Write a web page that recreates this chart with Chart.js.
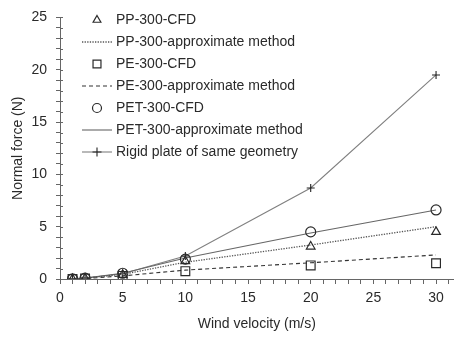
<!DOCTYPE html>
<html>
<head>
<meta charset="utf-8">
<script src="https://cdn.jsdelivr.net/npm/chart.js@4/dist/chart.umd.min.js"></script>
<style>
  html, body { margin: 0; padding: 0; background: #fff; }
  #wrap { width: 461px; height: 337px; }
</style>
</head>
<body>
<div id="wrap"><canvas id="myChart"></canvas></div>
<script>
// Wind velocities (m/s)
const velocity = [1, 2, 5, 10, 20, 30];

// Normal force (N)
const ppCfd = [0, 0.06, 0.4, 1.7, 3.1, 4.5];
const ppApprox = [0.01, 0.07, 0.45, 1.6, 3.25, 5.0];
const peCfd = [0, 0.05, 0.3, 0.75, 1.3, 1.5];
const peApprox = [0, 0.04, 0.3, 0.85, 1.55, 2.3];
const petCfd = [0.02, 0.08, 0.55, 1.9, 4.5, 6.6];
const petApprox = [0.01, 0.08, 0.55, 2.0, 4.4, 6.6];
const rigid = [0.01, 0.09, 0.5, 2.2, 8.7, 19.5];

// Axis ticks
const xMajorTicks = [0, 5, 10, 15, 20, 25, 30];
const yMajorTicks = [0, 5, 10, 15, 20, 25];

const labels = [
    "PP-300-CFD",
    "PP-300-approximate method",
    "PE-300-CFD",
    "PE-300-approximate method",
    "PET-300-CFD",
    "PET-300-approximate method",
    "Rigid plate of same geometry"
];

const ink = "#2a2a2a";
const lineGray = "#808080";
const fontFamily = "'Liberation Sans', Arial, sans-serif";

function toPoints(values) {
    return values.map((v, i) => ({ x: velocity[i], y: v }));
}

const datasets = [
    { label: labels[0], data: toPoints(ppCfd), showLine: false, pointStyle: "triangle", pointRadius: 5, borderColor: ink, borderWidth: 1.2, backgroundColor: "rgba(0,0,0,0)" },
    { label: labels[1], data: toPoints(ppApprox), borderColor: "#555", borderWidth: 1.3, borderDash: [1.3, 1.3], pointRadius: 0 },
    { label: labels[2], data: toPoints(peCfd), showLine: false, pointStyle: "rect", pointRadius: 6.2, borderColor: ink, borderWidth: 1.2, backgroundColor: "rgba(0,0,0,0)" },
    { label: labels[3], data: toPoints(peApprox), borderColor: "#333", borderWidth: 1.1, borderDash: [4, 3], pointRadius: 0 },
    { label: labels[4], data: toPoints(petCfd), showLine: false, pointStyle: "circle", pointRadius: 5, borderColor: ink, borderWidth: 1.2, backgroundColor: "rgba(0,0,0,0)" },
    { label: labels[5], data: toPoints(petApprox), borderColor: "#666", borderWidth: 1.1, pointRadius: 0 },
    { label: labels[6], data: toPoints(rigid), borderColor: lineGray, borderWidth: 1.1, pointStyle: "cross", pointRadius: 4, pointBorderColor: "#222", pointBorderWidth: 1.1 }
];

// Legend drawn inside the plot, top left
const insideLegend = {
    id: "insideLegend",
    afterDraw(chart) {
        const ctx = chart.ctx;
        const x0 = 82, x1 = 112, mid = 97, textX = 116;
        ctx.save();
        ctx.font = "14px " + fontFamily;
        ctx.textBaseline = "middle";
        chart.data.datasets.forEach((ds, i) => {
            const y = 20 + i * 22;
            if (ds.showLine !== false) {
                ctx.save();
                ctx.strokeStyle = ds.borderColor;
                ctx.lineWidth = ds.borderWidth;
                ctx.setLineDash(ds.borderDash || []);
                ctx.beginPath();
                ctx.moveTo(x0, y);
                ctx.lineTo(x1, y);
                ctx.stroke();
                ctx.restore();
            }
            if (ds.pointRadius > 0) {
                ctx.save();
                ctx.strokeStyle = ds.pointBorderColor || ds.borderColor;
                ctx.fillStyle = "rgba(0,0,0,0)";
                ctx.lineWidth = ds.pointBorderWidth || ds.borderWidth;
                Chart.helpers.drawPoint(ctx, { pointStyle: ds.pointStyle, radius: ds.pointStyle === "rect" ? 5.6 : 4.5, borderWidth: ctx.lineWidth }, mid, y);
                ctx.restore();
            }
            ctx.fillStyle = ink;
            ctx.fillText(ds.label, textX, y + 0.5);
        });
        ctx.restore();
    }
};

// Short inner half of the y ticks, so they cross the axis line
const yTickCross = {
    id: "yTickCross",
    afterDatasetsDraw(chart) {
        const y = chart.scales.y;
        const ctx = chart.ctx;
        ctx.save();
        ctx.strokeStyle = "#666";
        ctx.lineWidth = 1;
        y.ticks.forEach(t => {
            const py = Math.round(y.getPixelForValue(t.value)) + 0.5;
            ctx.beginPath();
            ctx.moveTo(y.right, py);
            ctx.lineTo(y.right + 3, py);
            ctx.stroke();
        });
        ctx.restore();
    }
};

new Chart("myChart", {
    type: "line",
    data: { datasets: datasets },
    options: {
        responsive: true,
        maintainAspectRatio: false,
        animation: false,
        layout: { padding: { top: 11, right: 6, left: 0, bottom: 0 } },
        scales: {
            x: {
                type: "linear",
                min: 0,
                max: 31.4,
                afterFit: s => { s.height = 58; },
                ticks: {
                    stepSize: 1,
                    includeBounds: false,
                    autoSkip: false,
                    maxRotation: 0,
                    padding: 6,
                    color: ink,
                    font: { size: 14, family: fontFamily },
                    callback: v => xMajorTicks.includes(v) ? String(v) : ""
                },
                grid: { drawOnChartArea: false, tickLength: 5, color: "#666" },
                border: { color: "#666" },
                title: {
                    display: true,
                    text: "Wind velocity (m/s)",
                    color: ink,
                    font: { size: 14, family: fontFamily },
                    padding: { top: 4, bottom: 4 }
                }
            },
            y: {
                min: 0,
                max: 25,
                afterFit: s => { s.width = 60; },
                ticks: {
                    stepSize: 1,
                    autoSkip: false,
                    padding: 9,
                    color: ink,
                    font: { size: 14, family: fontFamily },
                    callback: v => yMajorTicks.includes(v) ? String(v) : ""
                },
                grid: { drawOnChartArea: false, tickLength: 4, color: "#666" },
                border: { color: "#666" },
                title: {
                    display: true,
                    text: "Normal force (N)",
                    color: ink,
                    font: { size: 14, family: fontFamily },
                    padding: { top: 10, bottom: 4 }
                }
            }
        },
        plugins: {
            legend: { display: false },
            tooltip: { enabled: false }
        }
    },
    plugins: [insideLegend, yTickCross]
});
</script>
</body>
</html>
